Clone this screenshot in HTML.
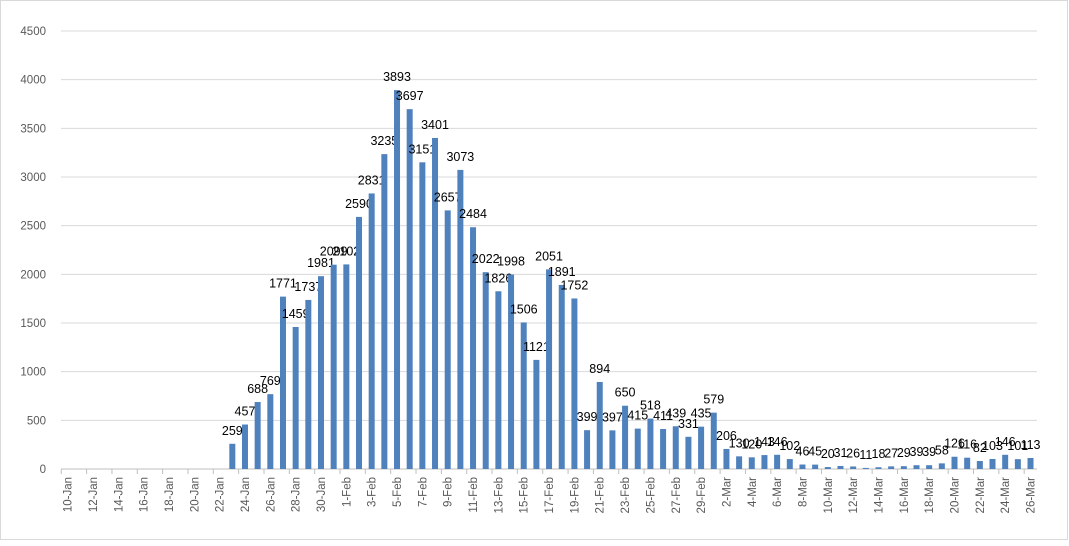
<!DOCTYPE html>
<html><head><meta charset="utf-8"><style>
body{margin:0;background:#fff}
</style></head><body>
<svg width="1069" height="541" xmlns="http://www.w3.org/2000/svg" font-family="Liberation Sans, sans-serif">
<rect x="0.5" y="0.5" width="1067" height="539" fill="#fff" stroke="#d9d9d9"/>
<g id="g"></g>
</svg>
<script>
const g=document.getElementById('g');
const NS='http://www.w3.org/2000/svg';
function el(t,a,txt){const e=document.createElementNS(NS,t);for(const k in a)e.setAttribute(k,a[k]);if(txt!=null)e.textContent=txt;g.appendChild(e);return e;}
const y0=469,sc=438/4500,x0=67.6,dx=12.67,L=61,R=1037;
for(let v=0;v<=4500;v+=500){const y=y0-v*sc;el('line',{x1:L,x2:R,y1:y,y2:y,stroke:'#d9d9d9'});el('text',{x:46,y:y+4,'text-anchor':'end','font-size':11.5,fill:'#595959'},v);}
const data=new Array(13).fill(0).concat([259,457,688,769,1771,1459,1737,1981,2099,2102,2590,2831,3235,3893,3697,3151,3401,2657,3073,2484,2022,1826,1998,1506,1121,2051,1891,1752,399,894,397,650,415,518,411,439,331,435,579,206,130,120,143,146,102,46,45,20,31,26,11,18,27,29,39,39,58,126,116,82,103,146,101,113]);
const names=[];for(let d=10;d<=31;d++)names.push(d+'-Jan');for(let d=1;d<=29;d++)names.push(d+'-Feb');for(let d=1;d<=26;d++)names.push(d+'-Mar');
el('line',{x1:L,x2:R,y1:y0,y2:y0,stroke:'#bfbfbf'});
data.forEach((v,i)=>{const x=x0+i*dx;
 if(i%2==0)el('line',{x1:x-dx/2,x2:x-dx/2,y1:y0,y2:y0+5,stroke:'#bfbfbf'});
 if(v>0){const h=v*sc;el('rect',{x:x-3,y:y0-h,width:6,height:h,fill:'#4f81bd'});
 el('text',{x:x,y:y0-h-9,'text-anchor':'middle','font-size':12.5,fill:'#000'},v);}
 if(i%2==0){el('text',{transform:`translate(${x+4},477) rotate(-90)`,'text-anchor':'end','font-size':11.5,fill:'#595959'},names[i]);}
});
</script>
</body></html>
